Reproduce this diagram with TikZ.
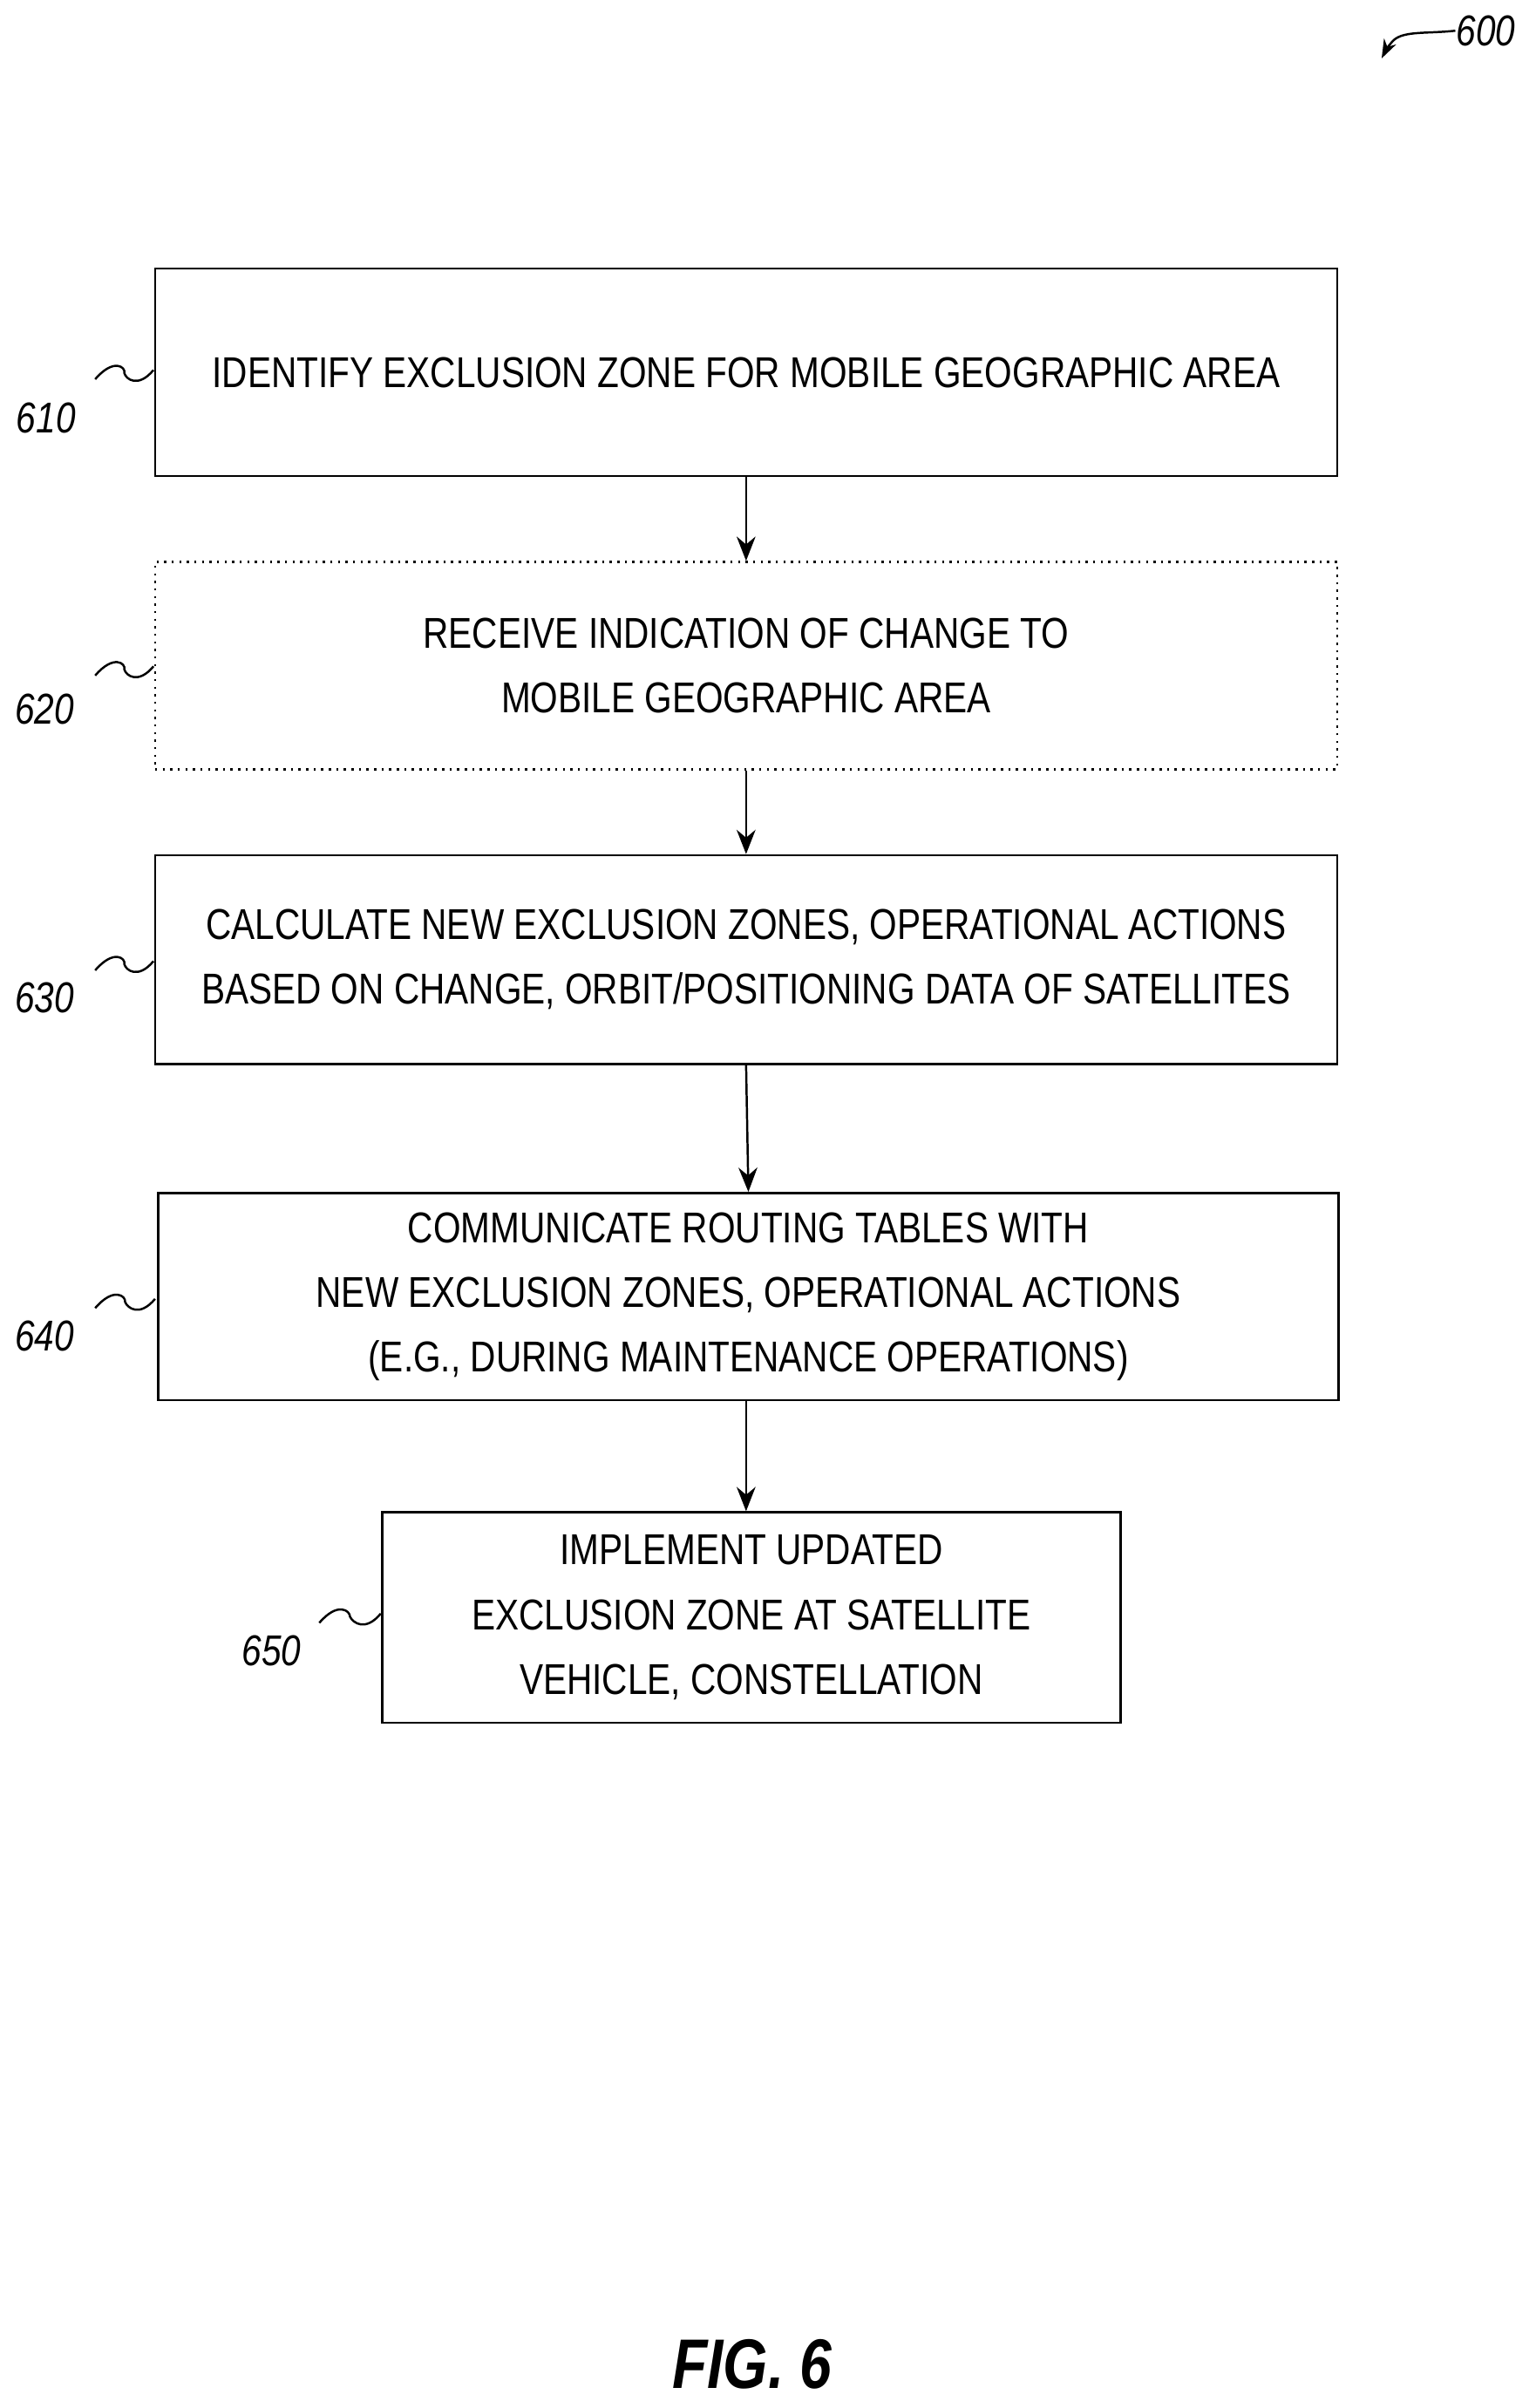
\documentclass[tikz,border=0pt]{standalone}
\usepackage{fontspec}
\setmainfont{Liberation Sans}[FakeStretch=0.82]
\usetikzlibrary{arrows.meta}
\begin{document}
\begin{tikzpicture}[x=0.02cm,y=-0.02cm,
 box/.style={draw,line width=0.8pt,inner sep=0pt,align=center,font=\fontsize{16}{24}\selectfont},
 lab/.style={font=\fontsize{16}{18}\selectfont\itshape},
 arr/.style={-{Stealth[length=9pt,width=7pt]},line width=0.8pt},
 sq/.style={line width=0.8pt}]
\useasboundingbox (0,0) rectangle (1000,1568.4);
\node[box,minimum width=770*0.02cm,minimum height=135*0.02cm] (b1) at (486,242.5) {IDENTIFY EXCLUSION ZONE FOR MOBILE GEOGRAPHIC AREA};
\node[box,dotted,minimum width=770*0.02cm,minimum height=135*0.02cm] (b2) at (486,433.5) {RECEIVE INDICATION OF CHANGE TO\\MOBILE GEOGRAPHIC AREA};
\node[box,minimum width=770*0.02cm,minimum height=136*0.02cm] (b3) at (486,625) {CALCULATE NEW EXCLUSION ZONES, OPERATIONAL ACTIONS\\BASED ON CHANGE, ORBIT/POSITIONING DATA OF SATELLITES};
\node[box,minimum width=769*0.02cm,minimum height=135*0.02cm] (b4) at (487.5,844.5) {COMMUNICATE ROUTING TABLES WITH\\NEW EXCLUSION ZONES, OPERATIONAL ACTIONS\\(E.G., DURING MAINTENANCE OPERATIONS)};
\node[box,minimum width=481*0.02cm,minimum height=137*0.02cm] (b5) at (489.5,1053.5) {IMPLEMENT UPDATED\\EXCLUSION ZONE AT SATELLITE\\VEHICLE, CONSTELLATION};
\draw[arr] (b1.south) -- (b2.north);
\draw[arr] (b2.south) -- (b3.north);
\draw[arr] (b3.south) -- (b4.north);
\draw[arr] (b4.south -| 486,0) -- (b5.north -| 486,0);
\node[lab] (l1) at (30,272) {610};
\node[lab] (l2) at (29,462) {620};
\node[lab] (l3) at (29,650) {630};
\node[lab] (l4) at (29,870) {640};
\node[lab] (l5) at (177,1075) {650};
\node[lab] (l6) at (968,20) {600};
\foreach \lx/\ly/\bx in {62/247/100, 62/440/100, 62/632/100, 62/852/101, 208/1057/248}{
 \draw[sq] (\lx,\ly) .. controls (\lx+12,\ly-14) and (\lx+20,\ly-8) .. (\lx+\bx/2-\lx/2+0,\ly-4) .. controls (\bx-18,\ly) and (\bx-10,\ly+6) .. (\bx,\ly-6);
}
\draw[sq,-{Stealth[length=7pt,width=5pt]}] (948,20) .. controls (930,22) and (915,20) .. (908,26) .. controls (904,30) and (902,34) .. (900,38);
\node[font=\fontsize{26}{28}\selectfont\bfseries\itshape] (fig) at (490,1540) {FIG. 6};
\end{tikzpicture}
\end{document}
